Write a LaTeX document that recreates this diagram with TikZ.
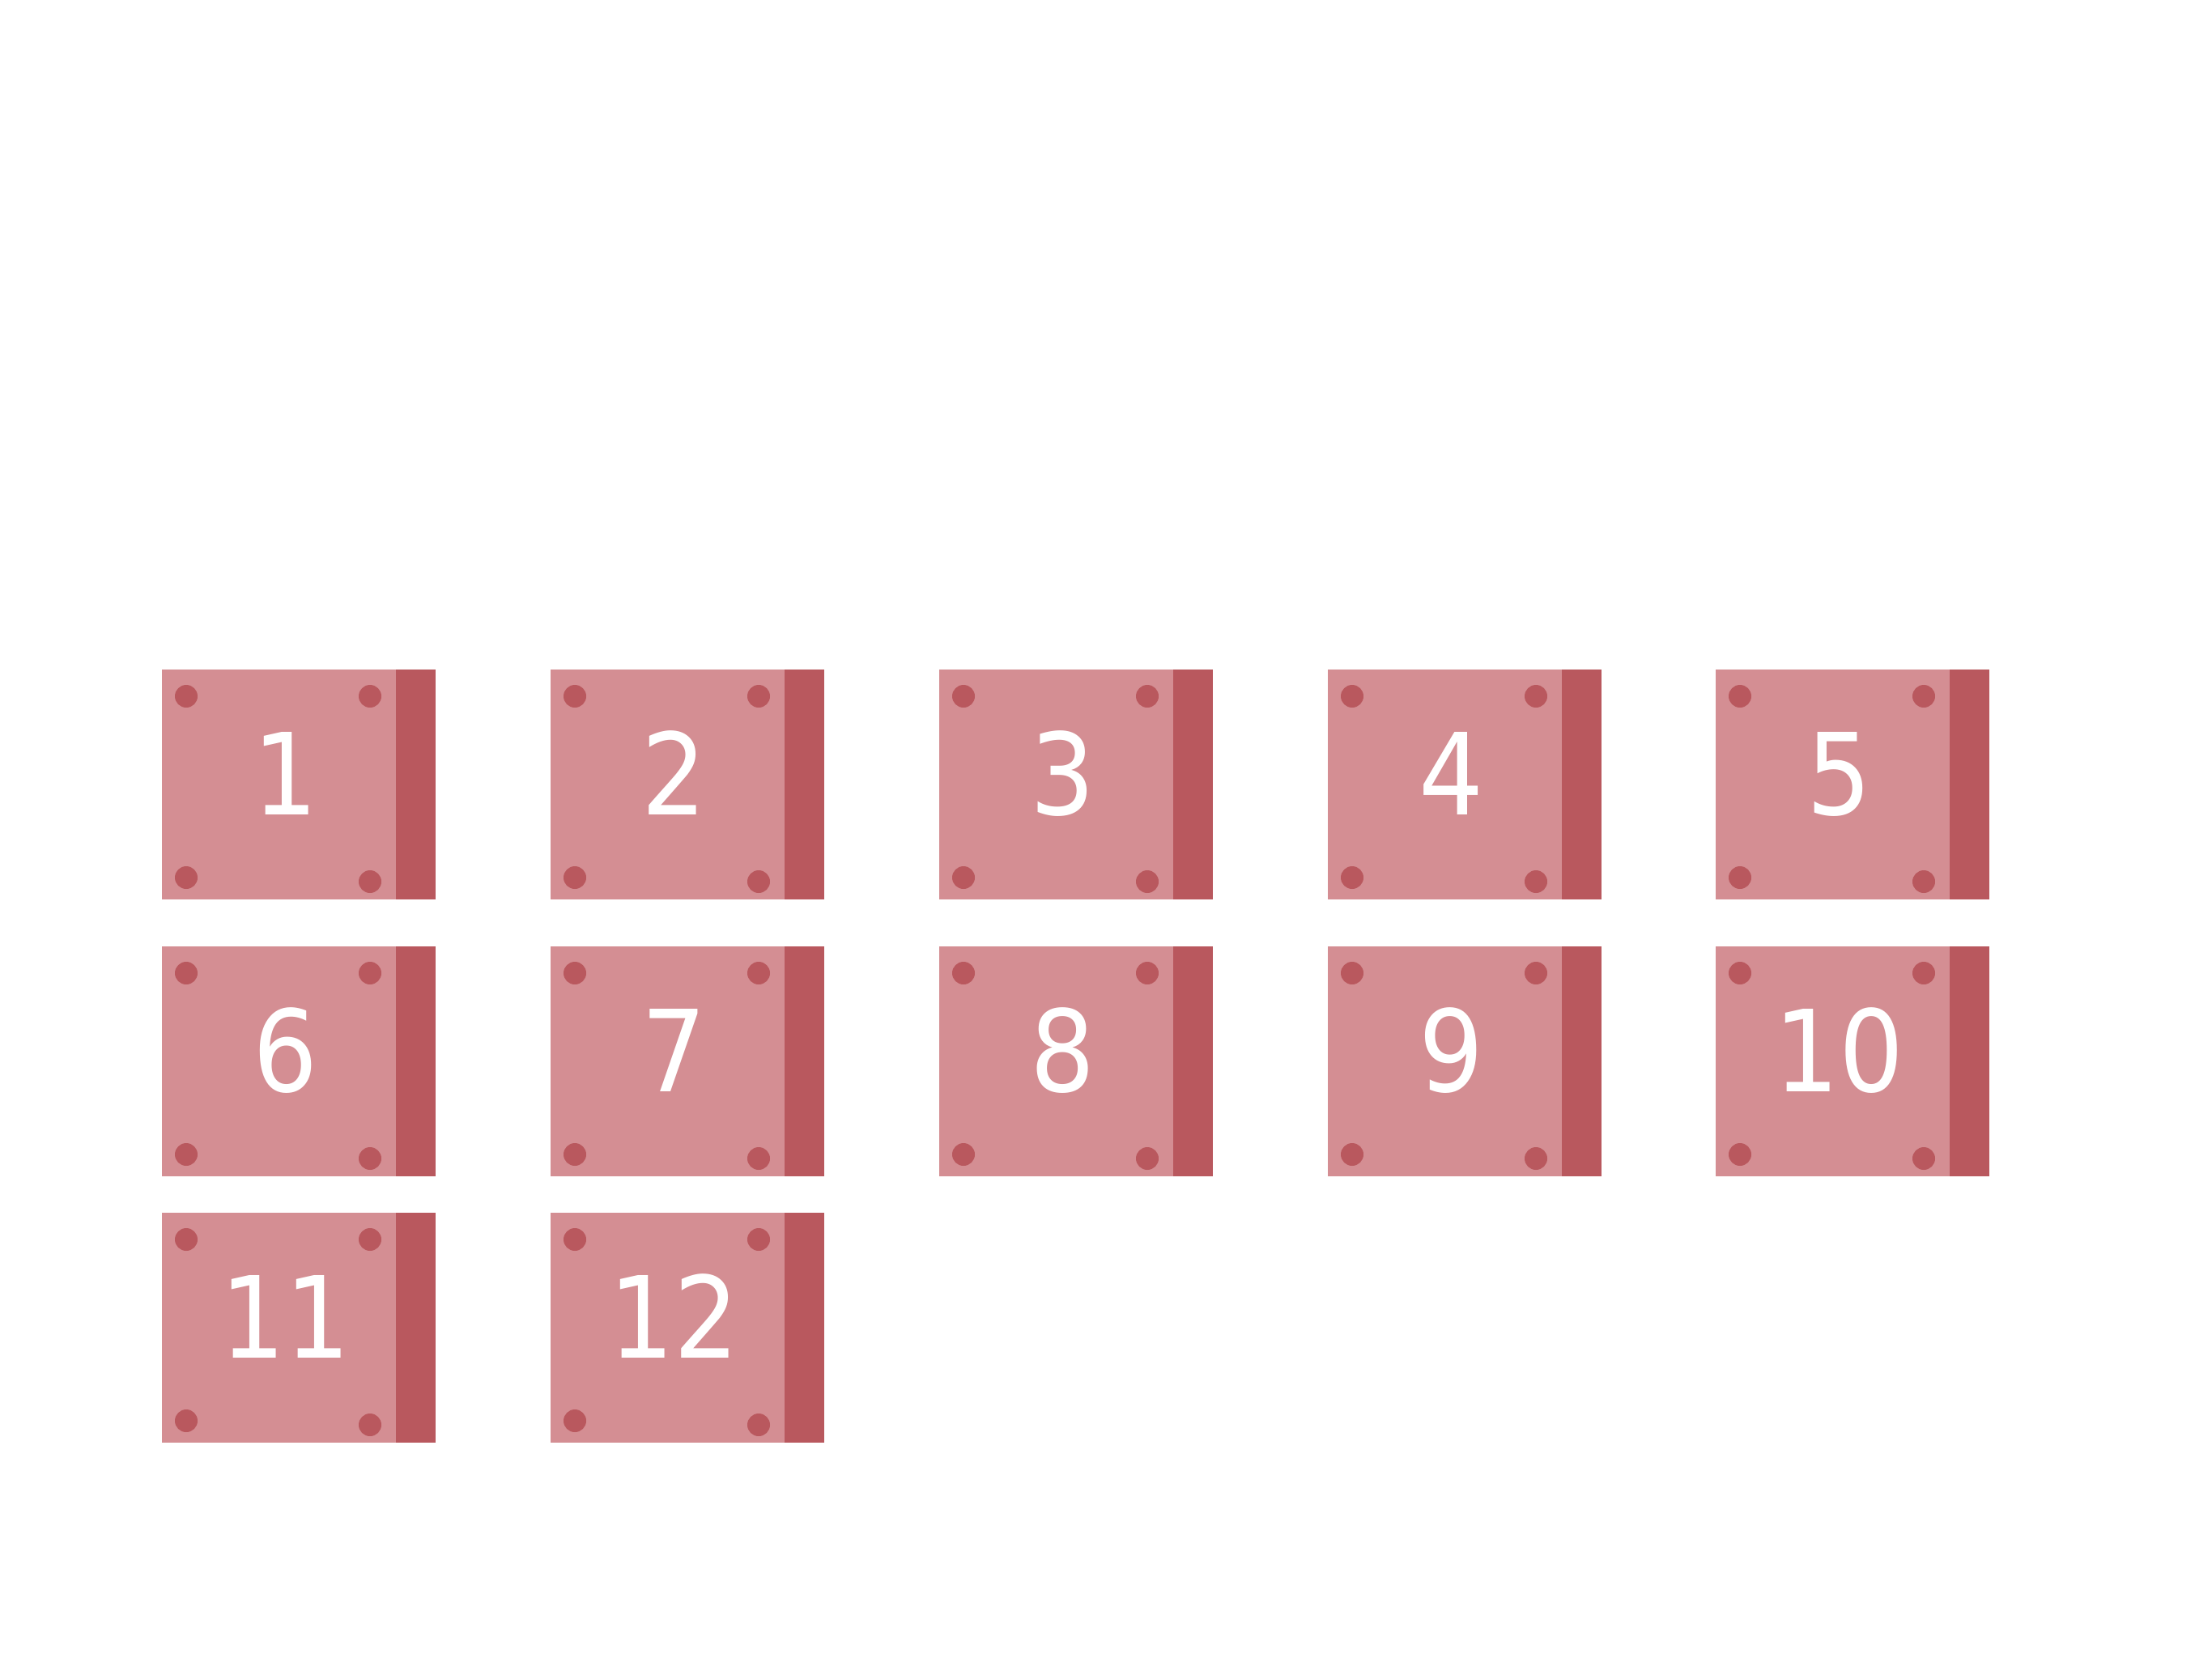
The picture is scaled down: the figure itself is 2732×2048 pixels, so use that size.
\documentclass[tikz,border=0pt]{standalone}
\usepackage{fontspec}
\setmainfont{DejaVu Sans Condensed}
\definecolor{panelc}{RGB}{212,142,147}
\definecolor{stripc}{RGB}{185,88,94}
\begin{document}
\begin{tikzpicture}[x=0.01cm,y=-0.01cm,
  panelbox/.style={fill=panelc,draw=none,inner sep=0pt,outer sep=0pt,minimum width=2.89cm,minimum height=2.84cm,anchor=north west},
  stripbox/.style={fill=stripc,draw=none,inner sep=0pt,outer sep=0pt,minimum width=0.49cm,minimum height=2.84cm,anchor=north west},
  bolt/.style={fill=stripc},
  numlabel/.style={text=white,inner sep=0pt,anchor=base,font=\fontsize{39.8}{48}\selectfont}]
\useasboundingbox (0,0) rectangle (2732,2048);
\foreach \n/\px/\py in {1/200/827,2/680/827,3/1160/827,4/1640/827,5/2119/827,
                        6/200/1169,7/680/1169,8/1160/1169,9/1640/1169,10/2119/1169,
                        11/200/1498,12/680/1498}{
  \node[panelbox] (p\n) at (\px,\py) {};
  \node[stripbox] (s\n) at (\px+289,\py) {};
  \fill[bolt] (\px+30,\py+33) circle[radius=14];
  \fill[bolt] (\px+257,\py+33) circle[radius=14];
  \fill[bolt] (\px+30,\py+257) circle[radius=14];
  \fill[bolt] (\px+257,\py+262) circle[radius=14];
  \node[numlabel] (t\n) at (\px+153,\py+179) {\n};
}
\end{tikzpicture}
\end{document}
